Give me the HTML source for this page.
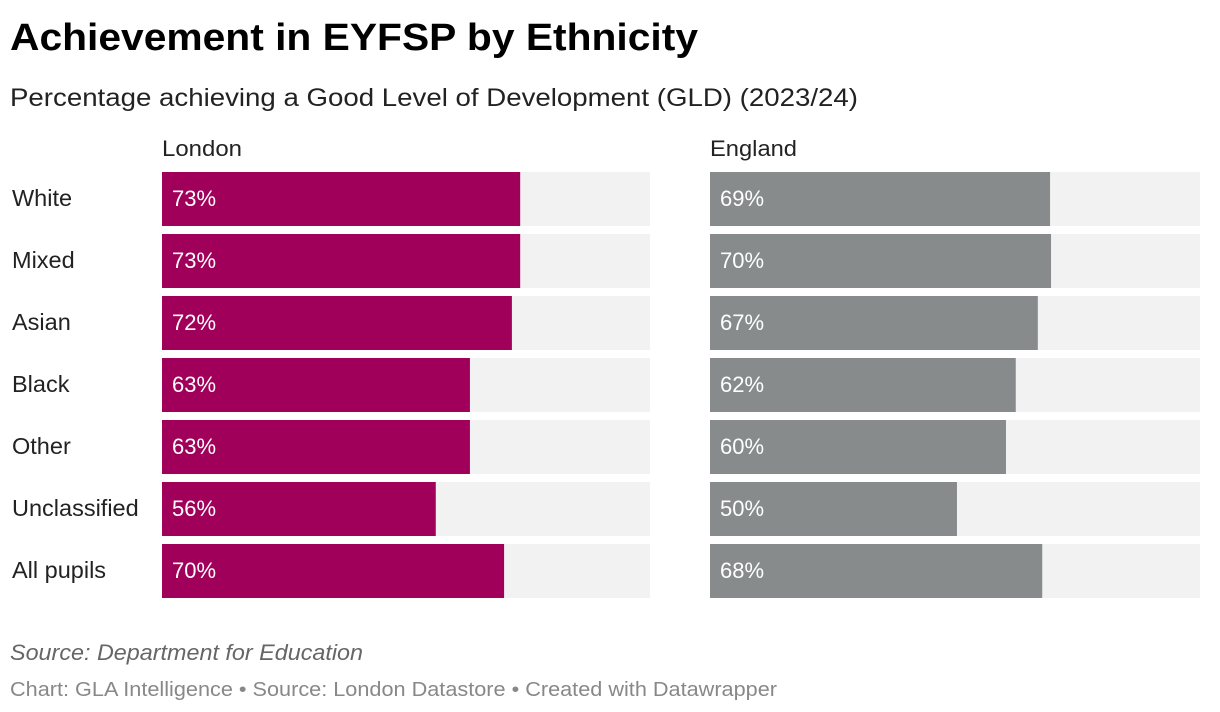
<!DOCTYPE html>
<html><head><meta charset="utf-8"><style>
html,body{margin:0;padding:0;background:#fff;width:1220px;height:712px;overflow:hidden;font-family:"Liberation Sans",Arial,sans-serif}
</style></head><body>
<svg id="chart" width="1220" height="712" xmlns="http://www.w3.org/2000/svg" font-family="Liberation Sans, Arial, sans-serif">
<text x="10" y="50" font-size="38" font-weight="bold" fill="#000" textLength="688" lengthAdjust="spacingAndGlyphs">Achievement in EYFSP by Ethnicity</text>
<text x="10" y="106" font-size="25" fill="#222" textLength="848" lengthAdjust="spacingAndGlyphs">Percentage achieving a Good Level of Development (GLD) (2023/24)</text>
<text x="162" y="156" font-size="22" fill="#222" textLength="80" lengthAdjust="spacingAndGlyphs">London</text>
<text x="710" y="156" font-size="22" fill="#222" textLength="87" lengthAdjust="spacingAndGlyphs">England</text>
<g id="bars"></g>
<text x="10" y="660" font-size="22" font-style="italic" fill="#666" textLength="353" lengthAdjust="spacingAndGlyphs">Source: Department for Education</text>
<text x="10" y="696" font-size="20" fill="#888" textLength="767" lengthAdjust="spacingAndGlyphs">Chart: GLA Intelligence • Source: London Datastore • Created with Datawrapper</text>
</svg>
<script>
const categories = ["White","Mixed","Asian","Black","Other","Unclassified","All pupils"];
const londonValues = [73.4,73.4,71.7,63.1,63.1,56.1,70.1];
const englandValues = [69.4,69.6,66.9,62.4,60.4,50.4,67.8];

const NS = "http://www.w3.org/2000/svg";
const g = document.getElementById("bars");
const rowY = i => 172 + i * 62;
const rowH = 54;
function xScale(v, x0, w){ return w * v / 100; }
function mk(tag, attrs){ const e = document.createElementNS(NS, tag); for (const k in attrs) e.setAttribute(k, attrs[k]); g.appendChild(e); return e; }

categories.forEach((c, i) => {
  const y = rowY(i);
  const lab = mk("text", {x: 12, y: y + 34, "font-size": 23.5, fill: "#222"});
  lab.textContent = c;
  
  

  [[londonValues, 162, 488, "#a0005a", "london"], [englandValues, 710, 490, "#878b8c", "england"]].forEach(([vals, x0, w, col, nm]) => {
    const bg = mk("rect", {x: x0, y: y, width: w, height: rowH, fill: "#f2f2f2"});
    
    
    const b = mk("rect", {x: x0, y: y, width: xScale(vals[i], x0, w), height: rowH, fill: col});
    
    
    const t = mk("text", {x: x0 + 10, y: y + 34, "font-size": 22, fill: "#fff"});
    t.textContent = Math.round(vals[i]) + "%";
    
    
  });
});
</script>
</body></html>
